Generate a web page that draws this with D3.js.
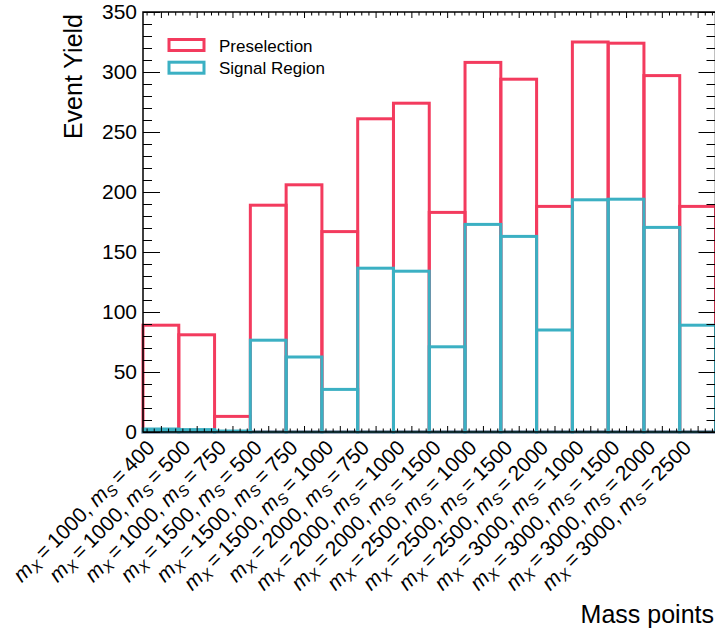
<!DOCTYPE html>
<html>
<head>
<meta charset="utf-8">
<script src="https://cdn.jsdelivr.net/npm/d3@7"></script>
<style>
  body { margin: 0; background: #fff; }
  svg { display: block; font-family: "Liberation Sans", Arial, sans-serif; }
</style>
</head>
<body>
<div class="container"></div>
<script>
// mass points (one bin each)
const massX = [1000, 1000, 1000, 1500, 1500, 1500, 2000, 2000, 2000, 2500, 2500, 2500, 3000, 3000, 3000, 3000];
const massS = [400, 500, 750, 500, 750, 1000, 750, 1000, 1500, 1000, 1500, 2000, 1000, 1500, 2000, 2500];

// event yields
const preselection = [89, 81, 13, 189, 206, 167, 261, 274, 183, 308, 294, 188, 325, 324, 297, 188];
const signalRegion = [2.5, 2, 0.8, 76.5, 62.5, 35.5, 136.5, 134, 71, 173, 163, 85, 193.5, 194, 170.5, 89];

const seriesNames = ['Preselection', 'Signal Region'];
const seriesColors = ['#f33b5e', '#3bb0c3'];

const yMajor = d3.range(0, 351, 50);
const yMinor = d3.range(0, 351, 10).filter(v => v % 50 !== 0);

const W = 715, H = 632;
const margin = { top: 12, right: -0.5, bottom: 200, left: 143 };

const x = d3.scaleLinear().domain([0, massX.length]).range([margin.left, W - margin.right]);
const y = d3.scaleLinear().domain([0, 350]).range([H - margin.bottom, margin.top]);

const svg = d3.select('.container').append('svg')
  .attr('width', W)
  .attr('height', H);

// histograms: each bin an unfilled box
[preselection, signalRegion].forEach((vals, k) => {
  svg.append('g')
    .selectAll('rect')
    .data(vals)
    .join('rect')
    .attr('x', (d, i) => x(i))
    .attr('y', d => y(d))
    .attr('width', (d, i) => x(i + 1) - x(i))
    .attr('height', d => y(0) - y(d))
    .attr('fill', 'none')
    .attr('stroke', seriesColors[k])
    .attr('stroke-width', 3);
});

// axes (ticks inward, mirrored on all sides)
const centers = massX.map((d, i) => i + 0.5);
const xMinor = d3.range(0, massX.length * 5).map(j => j * 0.2 + 0.1).filter(v => Math.abs((v % 1) - 0.5) > 0.01);

function styleAxis(g) {
  g.select('.domain').remove();
  g.selectAll('line').attr('stroke', '#000').attr('stroke-width', 1);
}

svg.append('g')
  .attr('transform', `translate(${x(0)},0)`)
  .call(d3.axisLeft(y).tickValues(yMajor).tickSize(-17).tickPadding(6))
  .call(styleAxis)
  .selectAll('text')
  .attr('font-size', 21)
  .attr('fill', '#000')
  .attr('font-family', '"Liberation Sans", Arial, sans-serif');

svg.append('g')
  .attr('transform', `translate(${x(0)},0)`)
  .call(d3.axisLeft(y).tickValues(yMinor).tickSize(-9).tickFormat(''))
  .call(styleAxis);

svg.append('g')
  .attr('transform', `translate(${x(massX.length)},0)`)
  .call(d3.axisRight(y).tickValues(yMajor).tickSize(-17).tickFormat(''))
  .call(styleAxis);

svg.append('g')
  .attr('transform', `translate(${x(massX.length)},0)`)
  .call(d3.axisRight(y).tickValues(yMinor).tickSize(-9).tickFormat(''))
  .call(styleAxis);

svg.append('g')
  .attr('transform', `translate(0,${y(0)})`)
  .call(d3.axisBottom(x).tickValues(centers).tickSize(-6).tickFormat(''))
  .call(styleAxis);

svg.append('g')
  .attr('transform', `translate(0,${y(0)})`)
  .call(d3.axisBottom(x).tickValues(xMinor).tickSize(-3.5).tickFormat(''))
  .call(styleAxis);

svg.append('g')
  .attr('transform', `translate(0,${y(350)})`)
  .call(d3.axisTop(x).tickValues(centers).tickSize(-6).tickFormat(''))
  .call(styleAxis);

svg.append('g')
  .attr('transform', `translate(0,${y(350)})`)
  .call(d3.axisTop(x).tickValues(xMinor).tickSize(-3.5).tickFormat(''))
  .call(styleAxis);

// frame
svg.append('rect')
  .attr('x', x(0))
  .attr('y', y(350))
  .attr('width', x(massX.length) - x(0))
  .attr('height', y(0) - y(350))
  .attr('fill', 'none')
  .attr('stroke', '#000')
  .attr('stroke-width', 1.5);

// rotated category labels
const lab = svg.append('g')
  .selectAll('text')
  .data(massX)
  .join('text')
  .attr('transform', (d, i) => `translate(${x(i + 0.5) - 5},${y(0) + 17}) rotate(-45)`)
  .attr('text-anchor', 'end')
  .attr('font-size', 21)
  .attr('fill', '#000');

lab.each(function (d, i) {
  const t = d3.select(this);
  t.append('tspan').attr('font-style', 'italic').text('m');
  t.append('tspan').attr('font-size', 15).attr('font-style', 'italic').attr('dy', 4).text('X');
  t.append('tspan').attr('dy', -4).text(`\u2009=\u2009${d}, `);
  t.append('tspan').attr('font-style', 'italic').text('m');
  t.append('tspan').attr('font-size', 15).attr('font-style', 'italic').attr('dy', 4).text('S');
  t.append('tspan').attr('dy', -4).text(`\u2009=\u2009${massS[i]}`);
});

// axis titles
svg.append('text')
  .attr('x', W - 1)
  .attr('y', 623)
  .attr('text-anchor', 'end')
  .attr('font-size', 25)
  .text('Mass points');

svg.append('text')
  .attr('transform', `translate(82,${y(350) + 2}) rotate(-90)`)
  .attr('text-anchor', 'end')
  .attr('font-size', 25)
  .text('Event Yield');

// legend
const legend = svg.append('g')
  .selectAll('g')
  .data(seriesNames)
  .join('g')
  .attr('transform', (d, i) => `translate(169,${39.5 + i * 22.7})`);

legend.append('rect')
  .attr('width', 35)
  .attr('height', 11)
  .attr('fill', 'none')
  .attr('stroke', (d, i) => seriesColors[i])
  .attr('stroke-width', 3);

legend.append('text')
  .attr('x', 50)
  .attr('y', 12)
  .attr('font-size', 17)
  .text(d => d);
</script>
</body>
</html>
